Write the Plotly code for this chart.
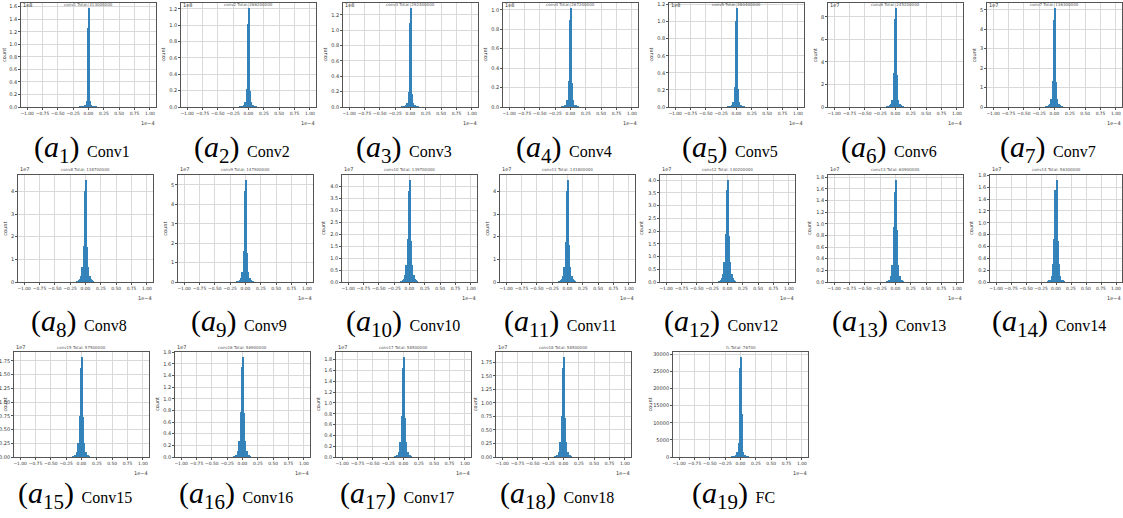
import plotly.graph_objects as go

W, H = 1123, 518

# ---- data -------------------------------------------------------------
LAYER_NAMES = ["Conv1", "Conv2", "Conv3", "Conv4", "Conv5", "Conv6", "Conv7",
               "Conv8", "Conv9", "Conv10", "Conv11", "Conv12", "Conv13", "Conv14",
               "Conv15", "Conv16", "Conv17", "Conv18", "FC"]

# histogram bin centres of the weight values (x axis is in units of 1e-4)
BIN_CENTERS = [-0.13, -0.11, -0.09, -0.07, -0.05, -0.03, -0.01,
               0.01, 0.03, 0.05, 0.07, 0.09, 0.11, 0.13]
BIN_WIDTH = 0.02

# counts per bin, expressed in units of 10**COUNT_EXPONENT[i]
conv1_counts = [0.002, 0.004, 0.007, 0.012, 0.025, 0.10, 1.26, 1.58, 0.09, 0.025, 0.012, 0.007, 0.004, 0.002]
conv2_counts = [0.003, 0.006, 0.012, 0.025, 0.06, 0.22, 1.02, 1.21, 0.20, 0.06, 0.025, 0.012, 0.006, 0.003]
conv3_counts = [0.002, 0.005, 0.010, 0.020, 0.05, 0.19, 1.10, 1.29, 0.17, 0.05, 0.020, 0.010, 0.005, 0.002]
conv4_counts = [0.003, 0.006, 0.012, 0.025, 0.07, 0.27, 0.90, 1.02, 0.25, 0.07, 0.025, 0.012, 0.006, 0.003]
conv5_counts = [0.002, 0.005, 0.010, 0.020, 0.06, 0.23, 1.01, 1.16, 0.21, 0.06, 0.020, 0.010, 0.005, 0.002]
conv6_counts = [0.03, 0.06, 0.12, 0.25, 0.60, 3.00, 7.80, 8.80, 2.80, 0.60, 0.25, 0.12, 0.06, 0.03]
conv7_counts = [0.02, 0.04, 0.08, 0.15, 0.40, 1.35, 4.50, 5.10, 1.30, 0.40, 0.15, 0.08, 0.04, 0.02]
conv8_counts = [0.03, 0.06, 0.12, 0.25, 0.65, 1.60, 4.00, 4.50, 1.55, 0.65, 0.25, 0.12, 0.06, 0.03]
conv9_counts = [0.02, 0.05, 0.10, 0.20, 0.50, 1.60, 4.70, 5.25, 1.50, 0.50, 0.20, 0.10, 0.05, 0.02]
conv10_counts = [0.03, 0.06, 0.12, 0.30, 0.70, 1.80, 3.80, 4.25, 1.70, 0.70, 0.30, 0.12, 0.06, 0.03]
conv11_counts = [0.03, 0.06, 0.12, 0.28, 0.65, 1.75, 4.00, 4.50, 1.65, 0.65, 0.28, 0.12, 0.06, 0.03]
conv12_counts = [0.03, 0.07, 0.14, 0.32, 0.80, 1.90, 3.60, 4.00, 1.80, 0.80, 0.32, 0.14, 0.07, 0.03]
conv13_counts = [0.01, 0.02, 0.04, 0.10, 0.30, 0.95, 1.55, 1.75, 0.90, 0.30, 0.10, 0.04, 0.02, 0.01]
conv14_counts = [0.01, 0.02, 0.04, 0.10, 0.30, 0.72, 1.55, 1.72, 0.70, 0.30, 0.10, 0.04, 0.02, 0.01]
conv15_counts = [0.01, 0.02, 0.04, 0.10, 0.25, 0.75, 1.62, 1.82, 0.72, 0.25, 0.10, 0.04, 0.02, 0.01]
conv16_counts = [0.01, 0.02, 0.04, 0.10, 0.28, 0.77, 1.55, 1.72, 0.75, 0.28, 0.10, 0.04, 0.02, 0.01]
conv17_counts = [0.01, 0.02, 0.04, 0.10, 0.27, 0.75, 1.65, 1.85, 0.72, 0.27, 0.10, 0.04, 0.02, 0.01]
conv18_counts = [0.01, 0.02, 0.04, 0.10, 0.27, 0.75, 1.65, 1.85, 0.72, 0.27, 0.10, 0.04, 0.02, 0.01]
fc_counts = [50, 100, 250, 600, 1500, 4000, 26000, 29200, 12500, 1500, 600, 250, 100, 50]

LAYER_COUNTS = [conv1_counts, conv2_counts, conv3_counts, conv4_counts, conv5_counts,
                conv6_counts, conv7_counts, conv8_counts, conv9_counts, conv10_counts,
                conv11_counts, conv12_counts, conv13_counts, conv14_counts, conv15_counts,
                conv16_counts, conv17_counts, conv18_counts, fc_counts]

COUNT_EXPONENT = [8, 8, 8, 8, 8, 7, 7, 7, 7, 7, 7, 7, 7, 7, 7, 7, 7, 7, 0]
Y_TICK_STEP = [0.2, 0.2, 0.2, 0.2, 0.2, 2, 1, 1, 1, 0.5, 1, 0.5, 0.2, 0.2, 0.25, 0.2, 0.2, 0.25, 5000]
Y_TICK_DECIMALS = [1, 1, 1, 1, 1, 0, 0, 0, 0, 1, 0, 1, 1, 1, 2, 1, 1, 2, 0]

X_TICK_VALUES = [-1.0, -0.75, -0.5, -0.25, 0.0, 0.25, 0.5, 0.75, 1.0]
X_TICK_LABELS = ["\u22121.00", "\u22120.75", "\u22120.50", "\u22120.25", "0.00",
                 "0.25", "0.50", "0.75", "1.00"]

# ---- layout (pixels) ----------------------------------------------------
PANEL_LEFT = [21, 181, 343, 503, 669, 828, 987,
              18, 178, 342, 500, 660, 828, 990,
              14, 175, 336, 496, 673]
PANEL_ROW = [0] * 7 + [1] * 7 + [2] * 5
ROW_TOP = [3, 175, 352]
ROW_BOTTOM = [107, 282, 457]
CAPTION_Y = [149, 323, 495]
PANEL_W = 135

SMALL_FONT = dict(family="DejaVu Sans", size=5, color="#333333")
XTICK_FONT = dict(family="DejaVu Sans", size=4.4, color="#333333")
BAR_COLOR = "#1f77b4"
SERIF = "Liberation Serif"


def px_x(x):
    return min(max(x / W, 0.0), 1.0)


def px_y(y):
    return min(max(1 - y / H, 0.0), 1.0)


fig = go.Figure()
annotations = []

for i, name in enumerate(LAYER_NAMES):
    k = i + 1
    xa = "x" if k == 1 else f"x{k}"
    ya = "y" if k == 1 else f"y{k}"
    counts = LAYER_COUNTS[i]
    row = PANEL_ROW[i]
    left = PANEL_LEFT[i]
    right = min(left + PANEL_W, W - 1)
    top, bottom = ROW_TOP[row], ROW_BOTTOM[row]

    fig.add_trace(go.Bar(
        x=BIN_CENTERS, y=counts, width=BIN_WIDTH,
        marker=dict(color=BAR_COLOR, line=dict(width=0)),
        opacity=0.9, xaxis=xa, yaxis=ya, showlegend=False,
    ))

    ymax = max(counts) * 1.05
    step = Y_TICK_STEP[i]
    dec = Y_TICK_DECIMALS[i]
    tickvals, ticktext = [], []
    j = 0
    while j * step <= ymax + 1e-9:
        tickvals.append(j * step)
        ticktext.append(f"{j * step:.{dec}f}")
        j += 1

    axis_common = dict(
        showline=True, mirror=True, linecolor="#555555", linewidth=0.8,
        showgrid=True, gridcolor="#d9d9d9", gridwidth=0.6, zeroline=False,
        ticks="outside", ticklen=2, tickwidth=0.6, tickcolor="#555555",
        automargin=False, tickangle=0,
    )
    fig.layout[f"xaxis{'' if k == 1 else k}"] = dict(
        domain=[px_x(left), px_x(right)], anchor=ya,
        range=[-1.1, 1.1], tickvals=X_TICK_VALUES, ticktext=X_TICK_LABELS,
        tickfont=XTICK_FONT, **axis_common,
    )
    fig.layout[f"yaxis{'' if k == 1 else k}"] = dict(
        domain=[px_y(bottom), px_y(top)], anchor=xa,
        range=[0, ymax], tickvals=tickvals, ticktext=ticktext,
        tickfont=SMALL_FONT, **axis_common,
    )

    # "count" axis label, left of the tick labels and kept inside the page
    label_w = max(len(t) for t in ticktext) * 2.8 + 7
    annotations.append(dict(
        text="count", textangle=-90, x=px_x(max(left - label_w - 3, 4)),
        y=px_y((top + bottom) / 2),
        xref="paper", yref="paper", showarrow=False, xanchor="center", yanchor="middle",
        font=SMALL_FONT,
    ))
    # texts that sit just above the frame; the top row has no room, so they
    # hang from the page edge instead
    if top < 8:
        head_y, head_anchor = px_y(0), "top"
    else:
        head_y, head_anchor = px_y(top - 0.5), "bottom"
    if COUNT_EXPONENT[i]:
        annotations.append(dict(
            text=f"1e{COUNT_EXPONENT[i]}", x=px_x(left), y=head_y,
            xref="paper", yref="paper", showarrow=False, xanchor="left", yanchor=head_anchor,
            font=SMALL_FONT,
        ))
    total = int(round(sum(counts) * 10 ** COUNT_EXPONENT[i]))
    annotations.append(dict(
        text=f"{name.lower()} Total: {total}", x=px_x((left + right) / 2), y=head_y,
        xref="paper", yref="paper", showarrow=False, xanchor="center", yanchor=head_anchor,
        font=dict(family="DejaVu Sans", size=4, color="#555555"),
    ))
    # x multiplier, below the last tick label
    annotations.append(dict(
        text="1e\u22124", x=px_x(right + 1), y=px_y(bottom + 11),
        xref="paper", yref="paper", showarrow=False, xanchor="right", yanchor="top",
        font=SMALL_FONT,
    ))
    # caption under panel
    annotations.append(dict(
        text=(f"(<i>a</i><sub>{k}</sub>) "
              f"<span style='font-size:16px'>{name}</span>"),
        x=px_x((left + right) / 2 - 7), y=px_y(CAPTION_Y[row]),
        xref="paper", yref="paper", showarrow=False, xanchor="center", yanchor="middle",
        font=dict(family=SERIF, size=30, color="#000000"),
    ))

fig.update_layout(
    width=W, height=H, margin=dict(l=0, r=0, t=0, b=0),
    paper_bgcolor="white", plot_bgcolor="white",
    bargap=0, barmode="overlay", annotations=annotations,
)

fig.write_html("out.html")
